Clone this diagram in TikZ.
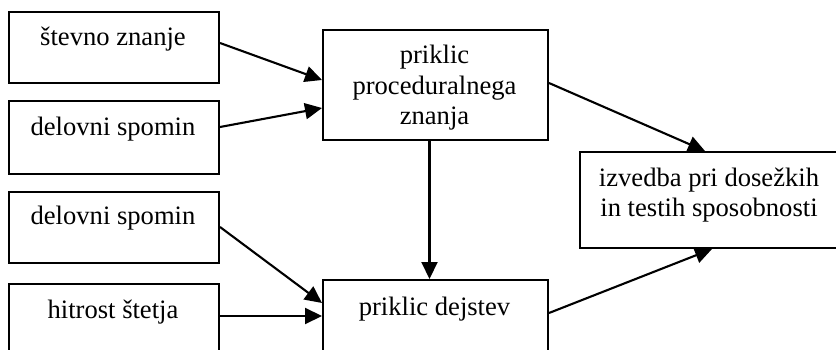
\documentclass[tikz,border=0pt]{standalone}
\usepackage{fontspec}
\setmainfont{Liberation Serif}
\usetikzlibrary{arrows.meta,calc}
\begin{document}
\begin{tikzpicture}[x=1pt,y=-1pt,
  box/.style={draw,line width=2pt,rectangle,inner sep=0pt,anchor=north west},
  lbl/.style={anchor=base,inner sep=0pt,align=center,font=\fontsize{26.6}{30.5}\selectfont},
  arr/.style={line width=2.1pt,-{Triangle[length=17pt,width=16pt]}}]
\useasboundingbox (0,0) rectangle (836,350);
\clip (0,0) rectangle (836,350);
% boxes
\node[box,minimum width=210pt,minimum height=71pt] (b1) at (8,11) {};
\node[box,minimum width=210pt,minimum height=73pt] (b2) at (8,100) {};
\node[box,minimum width=210pt,minimum height=71pt] (b3) at (8,191) {};
\node[box,minimum width=210pt,minimum height=90pt] (b4) at (8,283) {};
\node[box,minimum width=225pt,minimum height=110pt] (pp) at (322,29) {};
\node[box,minimum width=225pt,minimum height=90pt] (pd) at (322,279) {};
\node[box,minimum width=280pt,minimum height=96pt] (iz) at (579,151) {};
% labels
\node[lbl] (t1) at (113,46) {števno znanje};
\node[lbl] (t2) at (113,136) {delovni spomin};
\node[lbl] (t3) at (113,225) {delovni spomin};
\node[lbl] (t4) at (113,318) {hitrost štetja};
\node[lbl] (tp) at (434.5,125) {priklic\\proceduralnega\\znanja};
\node[lbl] (td) at (434.5,315) {priklic dejstev};
\node[lbl] (ti) at (709,217) {izvedba pri dosežkih\\in testih sposobnosti};
% connectors
\draw[arr] ([yshift=-32pt]b1.north east) -- ([yshift=-51pt]pp.north west);
\draw[arr] ([yshift=-27pt]b2.north east) -- ([yshift=-79pt]pp.north west);
\draw[arr] ([yshift=-36pt]b3.north east) -- ([yshift=-24pt]pd.north west);
\draw[arr] ([yshift=-33pt]b4.north east) -- ([yshift=-37pt]pd.north west);
\draw[arr] ([xshift=-6pt]pp.south) -- ([xshift=-6pt]pd.north);
\draw[arr] ([yshift=-54pt]pp.north east) -- ([xshift=126pt]iz.north west);
\draw[arr] ([yshift=-34pt]pd.north east) -- ([xshift=133pt]iz.south west);
\end{tikzpicture}
\end{document}
